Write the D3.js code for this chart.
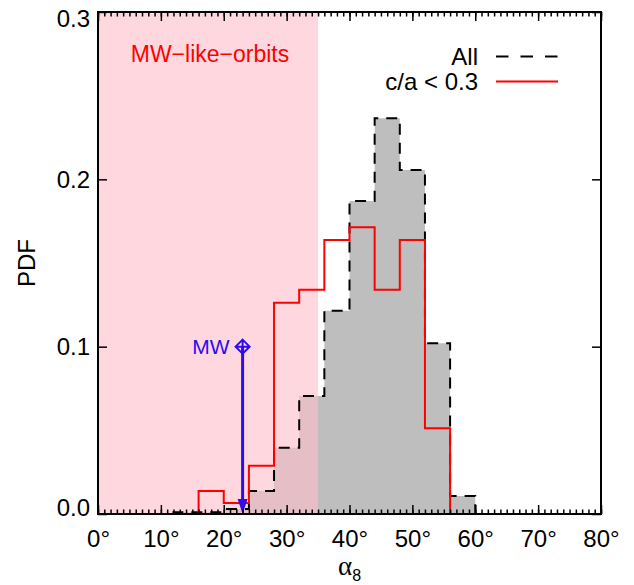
<!DOCTYPE html>
<html>
<head>
<meta charset="utf-8">
<script src="https://cdn.jsdelivr.net/npm/d3@7/dist/d3.min.js"></script>
<style>
  body { margin: 0; background: #fff; }
  svg { display: block; font-family: "Liberation Sans", Arial, Helvetica, sans-serif; }
</style>
</head>
<body>
<svg id="chart" width="634" height="585"></svg>
<script>
// bin left edges (deg), bin width 4 deg
const binStart = [0, 4, 8, 12, 16, 20, 24, 28, 32, 36, 40, 44, 48, 52, 56, 60, 64, 68, 72, 76];
const binWidth = 4;
// PDF of all systems
const allPdf = [0, 0, 0, 0.001, 0.001, 0.003, 0.0137, 0.0396, 0.0705, 0.1215, 0.187, 0.2365, 0.2056, 0.102, 0.0108, 0, 0, 0, 0, 0];
// PDF for c/a < 0.3
const caPdf = [0, 0, 0, 0, 0.0137, 0.0066, 0.0289, 0.1263, 0.134, 0.1638, 0.1713, 0.134, 0.1638, 0.0512, 0, 0, 0, 0, 0, 0];

const xTicks = [0, 10, 20, 30, 40, 50, 60, 70, 80];
const yTicks = [0, 0.1, 0.2, 0.3];
const legendLabels = ["All", "c/a < 0.3"];

const mwAngle = 23;      // MW value
const mwPdf = 0.1;       // marker height
const orbitLimit = 35;   // MW-like-orbits region upper edge

const svg = d3.select('#chart');

const x = d3.scaleLinear().domain([0, 80]).range([98, 601]);
const y = d3.scaleLinear().domain([0, 0.3]).range([514, 12]);

// step data: each bin start + final edge
function steps(vals) {
    const pts = binStart.map((b, i) => [b, vals[i]]);
    pts.push([binStart[binStart.length - 1] + binWidth, vals[vals.length - 1]]);
    return pts;
}

// gray fill
svg.append('path')
    .datum(steps(allPdf))
    .attr('fill', '#bebebe')
    .attr('d', d3.area()
        .curve(d3.curveStepAfter)
        .x(d => x(d[0]))
        .y0(y(0))
        .y1(d => y(d[1])));

// pink region
svg.append('rect')
    .attr('x', x(0))
    .attr('y', y(0.3))
    .attr('width', x(orbitLimit) - x(0))
    .attr('height', y(0) - y(0.3))
    .attr('fill', 'pink')
    .attr('opacity', 0.62);

const stepLine = d3.line()
    .curve(d3.curveStepAfter)
    .x(d => x(d[0]))
    .y(d => y(d[1]));

// All - dashed
svg.append('path')
    .datum(steps(allPdf))
    .attr('fill', 'none')
    .attr('stroke', '#000')
    .attr('stroke-width', 2)
    .attr('stroke-dasharray', '11,8')
    .attr('d', stepLine);

// c/a < 0.3 - red
svg.append('path')
    .datum(steps(caPdf))
    .attr('fill', 'none')
    .attr('stroke', '#ff0000')
    .attr('stroke-width', 2)
    .attr('d', stepLine);

// text label in pink region
svg.append('text')
    .attr('x', 210)
    .attr('y', 62)
    .attr('text-anchor', 'middle')
    .attr('fill', '#ff0000')
    .attr('font-size', 23)
    .text('MW\u2212like\u2212orbits');

// MW marker
const blue = '#2e0ced';
const mx = x(mwAngle), my = y(mwPdf);
svg.append('line')
    .attr('x1', mx).attr('x2', mx)
    .attr('y1', my).attr('y2', y(0) - 12)
    .attr('stroke', blue)
    .attr('stroke-width', 3);
svg.append('path')
    .attr('d', `M${mx - 5},${y(0) - 15}L${mx + 5},${y(0) - 15}L${mx},${y(0)}Z`)
    .attr('fill', blue);
const ds = 7;
svg.append('path')
    .attr('d', `M${mx},${my - ds}L${mx + ds},${my}L${mx},${my + ds}L${mx - ds},${my}Z` +
               `M${mx - ds},${my}L${mx + ds},${my}M${mx},${my - ds}L${mx},${my + ds}`)
    .attr('fill', 'none')
    .attr('stroke', blue)
    .attr('stroke-width', 2);
svg.append('text')
    .attr('x', mx - 13)
    .attr('y', my)
    .attr('dy', '0.36em')
    .attr('text-anchor', 'end')
    .attr('fill', blue)
    .attr('font-size', 21)
    .text('MW');

// legend
const legend = svg.append('g');
legendLabels.forEach((lab, i) => {
    const ly = 56.5 + i * 25;
    legend.append('text')
        .attr('x', 478)
        .attr('y', ly)
        .attr('dy', '0.36em')
        .attr('text-anchor', 'end')
        .attr('font-size', 24)
        .text(lab);
    legend.append('line')
        .attr('x1', 496).attr('x2', 558)
        .attr('y1', ly).attr('y2', ly)
        .attr('stroke', i === 0 ? '#000' : '#ff0000')
        .attr('stroke-width', 2)
        .attr('stroke-dasharray', i === 0 ? '12.5,12' : null);
});

// axes
const minorX = d3.range(0, 81, 1);

function styleAxis(g) {
    g.select('.domain').remove();
    g.selectAll('.tick line').attr('stroke', '#000').attr('stroke-width', 1.5);
    g.selectAll('text').attr('fill', '#000').attr('font-size', 24).attr('font-family', null);
}

// bottom
svg.append('g')
    .attr('transform', `translate(0,${y(0)})`)
    .call(d3.axisBottom(x).tickValues(minorX).tickSize(-4.5).tickFormat(''))
    .call(styleAxis);
svg.append('g')
    .attr('transform', `translate(0,${y(0)})`)
    .call(d3.axisBottom(x).tickValues(xTicks).tickSize(-9).tickPadding(16).tickFormat(d => d + '\u00b0'))
    .call(styleAxis);
// top
svg.append('g')
    .attr('transform', `translate(0,${y(0.3)})`)
    .call(d3.axisTop(x).tickValues(minorX).tickSize(-4.5).tickFormat(''))
    .call(styleAxis);
svg.append('g')
    .attr('transform', `translate(0,${y(0.3)})`)
    .call(d3.axisTop(x).tickValues(xTicks).tickSize(-9).tickFormat(''))
    .call(styleAxis);
// left
const yAx = svg.append('g')
    .attr('transform', `translate(${x(0)},0)`)
    .call(d3.axisLeft(y).tickValues(yTicks).tickSize(-9).tickPadding(8).tickFormat(d3.format('.1f')))
    .call(styleAxis);
yAx.selectAll('.tick text')
    .attr('dy', d => d === 0.3 ? '0.62em' : d === 0 ? '0.08em' : '0.34em');
// right
svg.append('g')
    .attr('transform', `translate(${x(80)},0)`)
    .call(d3.axisRight(y).tickValues(yTicks).tickSize(-9).tickFormat(''))
    .call(styleAxis);

// frame
svg.append('rect')
    .attr('x', x(0)).attr('y', y(0.3))
    .attr('width', x(80) - x(0)).attr('height', y(0) - y(0.3))
    .attr('fill', 'none')
    .attr('stroke', '#000')
    .attr('stroke-width', 2);

// axis titles
const xt = svg.append('text')
    .attr('x', x(40))
    .attr('y', 575)
    .attr('text-anchor', 'middle');
xt.append('tspan')
    .attr('font-family', '"Liberation Serif", "DejaVu Serif", serif')
    .attr('font-size', 27)
    .text('\u03b1');
xt.append('tspan')
    .attr('font-size', 16)
    .attr('dy', 6)
    .text('8');

svg.append('text')
    .attr('transform', `translate(35,${(y(0) + y(0.3)) / 2}) rotate(-90)`)
    .attr('text-anchor', 'middle')
    .attr('font-size', 24)
    .text('PDF');
</script>
</body>
</html>
